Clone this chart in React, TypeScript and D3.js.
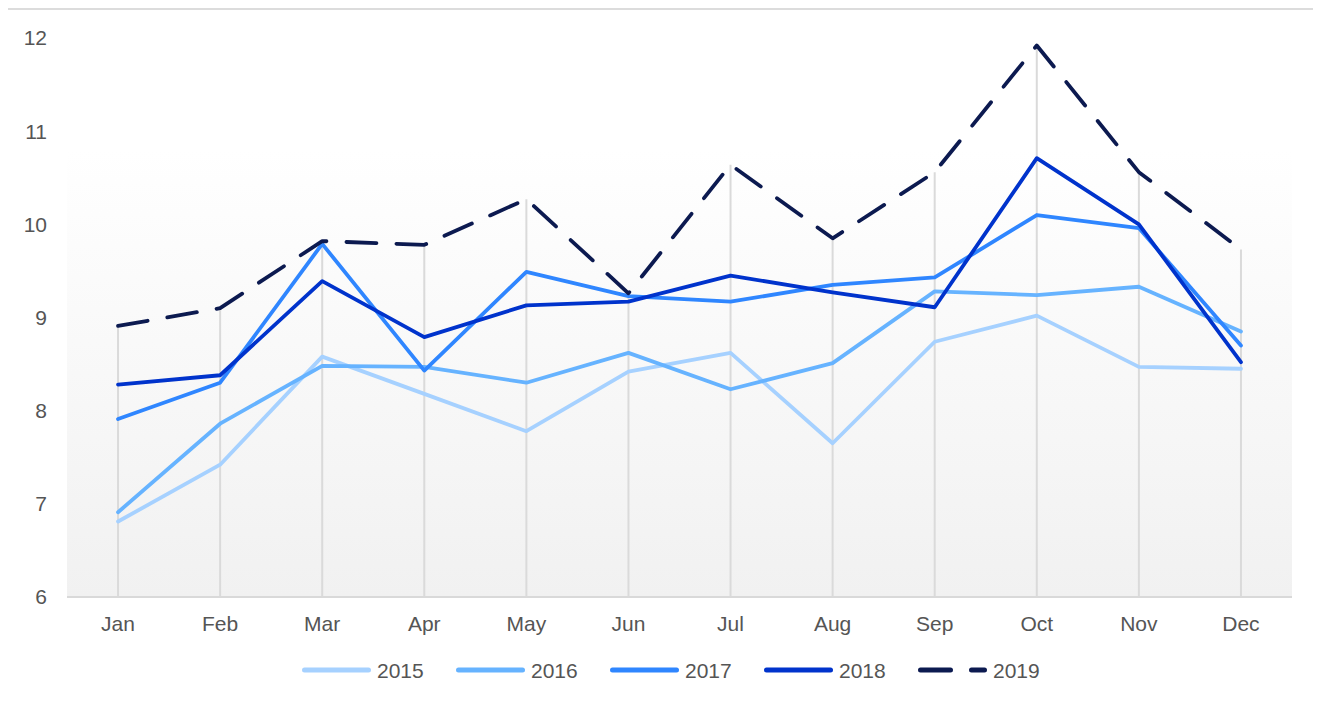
import React from 'react';
import * as d3 from 'd3';

const months = ['Jan', 'Feb', 'Mar', 'Apr', 'May', 'Jun', 'Jul', 'Aug', 'Sep', 'Oct', 'Nov', 'Dec'];
const years = ['2015', '2016', '2017', '2018', '2019'];
const yTicks = [6, 7, 8, 9, 10, 11, 12];

const v2015 = [6.81, 7.42, 8.58, 8.18, 7.78, 8.42, 8.62, 7.65, 8.74, 9.02, 8.47, 8.45];
const v2016 = [6.91, 7.86, 8.48, 8.47, 8.30, 8.62, 8.23, 8.51, 9.28, 9.24, 9.33, 8.85];
const v2017 = [7.91, 8.30, 9.79, 8.43, 9.49, 9.23, 9.17, 9.35, 9.43, 10.10, 9.96, 8.70];
const v2018 = [8.28, 8.38, 9.39, 8.79, 9.13, 9.17, 9.45, 9.27, 9.11, 10.71, 10.0, 8.52];
const v2019 = [8.91, 9.10, 9.82, 9.78, 10.27, 9.26, 10.64, 9.85, 10.56, 11.92, 10.56, 9.73];

const seriesValues = [v2015, v2016, v2017, v2018, v2019];
const colors = ['#a6d1ff', '#66b3ff', '#2f86ff', '#0033cc', '#0c1a50'];

const W = 1313;
const H = 694;
const font = '"Liberation Sans", Arial, sans-serif';

export default function App() {
  const x = d3.scaleBand().domain(months).range([60, 1285]).padding(0);
  const cx = (m: string) => (x(m) ?? 0) + x.bandwidth() / 2;
  const y = d3.scaleLinear().domain([6, 12]).range([589, 30]);

  const line = d3
    .line<number>()
    .x((_, i) => cx(months[i]))
    .y((d) => y(d));

  const maxes = months.map((_, i) => d3.max(seriesValues, (s) => s[i]) ?? 6);

  // legend items, 154px apart
  const legendX = d3.scaleBand().domain(years).range([295, 295 + 154 * 5]);

  return (
    <svg width={W} height={H} style={{ display: 'block', marginLeft: -1 }} fontFamily={font}>
      <defs>
        <linearGradient id="bg" x1="0" y1="0" x2="0" y2="1">
          <stop offset="0" stopColor="#ffffff" />
          <stop offset="0.2" stopColor="#ffffff" />
          <stop offset="1" stopColor="#f1f1f1" />
        </linearGradient>
      </defs>
      <rect x={0} y={1} width={W + 10} height={H + 10} fill="#fff" stroke="#dcdcdc" strokeWidth={2} />
      <rect x={60} y={y(12)} width={1225} height={y(6) - y(12)} fill="url(#bg)" />

      {months.map((m, i) => (
        <line key={m} x1={cx(m)} x2={cx(m)} y1={y(maxes[i])} y2={y(6)} stroke="#dadada" strokeWidth={2} />
      ))}
      <line x1={60} x2={1285} y1={y(6)} y2={y(6)} stroke="#d9d9d9" strokeWidth={2} />

      {yTicks.map((t) => (
        <text key={t} x={40} y={y(t)} dy="0.35em" textAnchor="end" fontSize={21} fill="#555">
          {t}
        </text>
      ))}
      {months.map((m) => (
        <text key={m} x={cx(m)} y={623} textAnchor="middle" fontSize={21} fill="#555">
          {m}
        </text>
      ))}

      {seriesValues.map((s, k) => (
        <path
          key={years[k]}
          d={line(s) ?? ''}
          fill="none"
          stroke={colors[k]}
          strokeWidth={3.8}
          strokeLinecap="round"
          strokeLinejoin="round"
          strokeDasharray={k === 4 ? '30 20' : undefined}
        />
      ))}

      {years.map((yr, k) => {
        const lx = legendX(yr) ?? 0;
        return (
          <g key={yr}>
            <line
              x1={lx + 2.5}
              x2={lx + 66.5}
              y1={662}
              y2={662}
              stroke={colors[k]}
              strokeWidth={5}
              strokeLinecap="round"
              strokeDasharray={k === 4 ? '30 21' : undefined}
            />
            <text x={lx + 75} y={670} fontSize={21} fill="#555">
              {yr}
            </text>
          </g>
        );
      })}
    </svg>
  );
}
